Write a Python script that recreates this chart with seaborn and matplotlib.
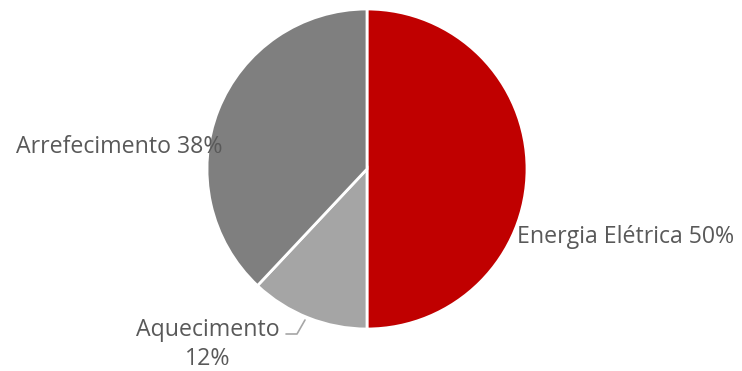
import matplotlib
matplotlib.use("Agg")
import matplotlib.pyplot as plt
import seaborn as sns

sns.set_theme(style="white")
plt.rcParams['font.family'] = ['Open Sans', 'DejaVu Sans']

categories = ["Energia Elétrica", "Aquecimento", "Arrefecimento"]
values = [50, 12, 38]
colors = ["#C00000", "#A5A5A5", "#7F7F7F"]

W, H = 742, 371
fig = plt.figure(figsize=(W / 100, H / 100), dpi=100)
cx, cy, r = 367, 202, 160
ax = fig.add_axes([(cx - r) / W, (cy - r) / H, 2 * r / W, 2 * r / H])
ax.pie(values, colors=colors, startangle=90, counterclock=False,
       wedgeprops=dict(edgecolor="white", linewidth=2))
ax.set_xlim(-1, 1)
ax.set_ylim(-1, 1)
ax.set_aspect("equal")
ax.axis("off")

tc = "#595959"
fs = 16.7
ax.text(0.9375, -0.425, f"{categories[0]} {values[0]}%", ha="left", va="center",
        color=tc, fontsize=fs, clip_on=False)
ax.text(-0.906, 0.1375, f"{categories[2]} {values[2]}%", ha="right", va="center",
        color=tc, fontsize=fs, clip_on=False)
ax.text(-0.994, -1.097, f"{categories[1]}\n{values[1]}%", ha="center", va="center",
        color=tc, fontsize=fs, clip_on=False, linespacing=1.3)
ax.plot([(286 - cx) / r, (297 - cx) / r, (305 - cx) / r],
        [(H - 334 - cy) / r, (H - 334 - cy) / r, (H - 320 - cy) / r],
        color="#A6A6A6", lw=1.2, clip_on=False)

fig.savefig("out.png", dpi=100, facecolor="white")
